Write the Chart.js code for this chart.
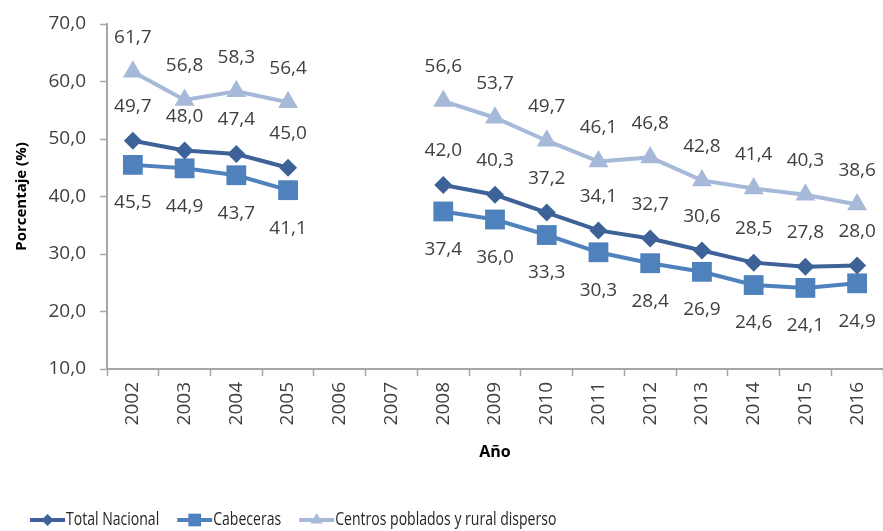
<!DOCTYPE html>
<html>
<head>
<meta charset="utf-8">
<script src="https://cdn.jsdelivr.net/npm/chart.js@4.4.1/dist/chart.umd.min.js"></script>
<style>
  html, body { margin: 0; padding: 0; background: #fff; overflow: hidden; }
  #wrap { width: 883px; height: 531px; position: relative; }
  #wrap canvas { display: block; }
</style>
</head>
<body>
<div id="wrap"><canvas id="povertyChart"></canvas></div>
<script>
const years = ["2002", "2003", "2004", "2005", "2006", "2007", "2008", "2009",
  "2010", "2011", "2012", "2013", "2014", "2015", "2016"];

const totalNacional = [49.7, 48.0, 47.4, 45.0, null, null, 42.0, 40.3, 37.2, 34.1, 32.7, 30.6, 28.5, 27.8, 28.0];
const cabeceras = [45.5, 44.9, 43.7, 41.1, null, null, 37.4, 36.0, 33.3, 30.3, 28.4, 26.9, 24.6, 24.1, 24.9];
const centrosPoblados = [61.7, 56.8, 58.3, 56.4, null, null, 56.6, 53.7, 49.7, 46.1, 46.8, 42.8, 41.4, 40.3, 38.6];

const yMin = 10;
const yMax = 70;
const yStep = 10;

const fmt = (v) => v.toFixed(1).replace(".", ",");

const textColor = "#404040";
const axisColor = "#a6a6a6";

// value labels above / below the points
const valueLabels = {
  id: "valueLabels",
  afterDatasetsDraw(chart) {
    const ctx = chart.ctx;
    ctx.save();
    ctx.font = "19px 'Open Sans'";
    ctx.fillStyle = textColor;
    ctx.textAlign = "center";
    ctx.textBaseline = "middle";
    chart.data.datasets.forEach((ds, i) => {
      chart.getDatasetMeta(i).data.forEach((pt, j) => {
        const v = ds.data[j];
        if (v == null) return;
        ctx.fillText(fmt(v), pt.x, pt.y + ds.labelOffset);
      });
    });
    ctx.restore();
  }
};

// legend: line with marker, then a condensed label
const lineLegend = {
  id: "lineLegend",
  afterDraw(chart) {
    const ctx = chart.ctx;
    const y = 520;
    const squeeze = 0.78;
    let x = 30;
    ctx.save();
    ctx.font = "18px 'Open Sans'";
    ctx.textBaseline = "middle";
    ctx.textAlign = "left";
    chart.data.datasets.forEach((ds) => {
      ctx.strokeStyle = ds.borderColor;
      ctx.fillStyle = ds.borderColor;
      ctx.lineWidth = 4;
      ctx.beginPath();
      ctx.moveTo(x, y);
      ctx.lineTo(x + 35, y);
      ctx.stroke();
      Chart.helpers.drawPoint(ctx, {
        pointStyle: ds.pointStyle,
        radius: ds.legendRadius,
        borderWidth: 0
      }, x + 17.5, y);
      ctx.fillStyle = "#262626";
      const tx = x + 36;
      ctx.save();
      ctx.translate(tx, y);
      ctx.scale(squeeze, 1);
      ctx.fillText(ds.label, 0, 0);
      ctx.restore();
      x = tx + ctx.measureText(ds.label).width * squeeze + 18;
    });
    ctx.restore();
  }
};

const ctx = document.getElementById("povertyChart").getContext("2d");

new Chart(ctx, {
  type: "line",
  data: {
    labels: years,
    datasets: [
      {
        label: "Total Nacional",
        data: totalNacional,
        borderColor: "#3d6297",
        backgroundColor: "#3d6297",
        pointStyle: "rectRot",
        pointRadius: 9,
        legendRadius: 6,
        labelOffset: -34
      },
      {
        label: "Cabeceras",
        data: cabeceras,
        borderColor: "#4f81bd",
        backgroundColor: "#4f81bd",
        pointStyle: "rect",
        pointRadius: 14,
        legendRadius: 9,
        labelOffset: 38
      },
      {
        label: "Centros poblados y rural disperso",
        data: centrosPoblados,
        borderColor: "#a7b9d9",
        backgroundColor: "#a7b9d9",
        pointStyle: "triangle",
        pointRadius: 11.5,
        legendRadius: 7,
        labelOffset: -34
      }
    ]
  },
  options: {
    responsive: true,
    maintainAspectRatio: false,
    animation: false,
    spanGaps: false,
    layout: {
      autoPadding: false,
      padding: { top: 24, left: 0, right: 0, bottom: 0 }
    },
    elements: {
      line: { borderWidth: 4, tension: 0 },
      point: { borderWidth: 0, hoverRadius: 10 }
    },
    plugins: {
      legend: { display: false },
      tooltip: { enabled: false }
    },
    scales: {
      x: {
        offset: true,
        grid: {
          offset: true,
          drawOnChartArea: false,
          drawTicks: true,
          tickLength: 7,
          tickColor: axisColor,
          tickWidth: 1.5
        },
        border: { color: axisColor, width: 2 },
        ticks: {
          color: textColor,
          font: { family: "'Open Sans'", size: 19 },
          maxRotation: 90,
          minRotation: 90,
          padding: 6,
          autoSkip: false
        },
        title: {
          display: true,
          text: "Año",
          color: "#000",
          font: { family: "'Open Sans'", size: 16, weight: "bold" },
          padding: { top: 4, bottom: 69 }
        },
        afterFit(scale) {
          scale.height = 162;
          scale.paddingLeft = 0;
          scale.paddingRight = 0;
        }
      },
      y: {
        min: yMin,
        max: yMax,
        grid: {
          drawOnChartArea: false,
          tickLength: 7,
          tickColor: axisColor,
          tickWidth: 1.5
        },
        border: { color: axisColor, width: 2 },
        ticks: {
          stepSize: yStep,
          color: textColor,
          font: { family: "'Open Sans'", size: 19 },
          padding: 14,
          callback: (v) => fmt(v)
        },
        title: {
          display: true,
          text: "Porcentaje (%)",
          color: "#000",
          font: { family: "'Open Sans'", size: 15, weight: "bold" },
          padding: { top: 13, bottom: 0 }
        },
        afterFit(scale) {
          scale.width = 107;
          scale.paddingTop = 0;
          scale.paddingBottom = 0;
        }
      }
    }
  },
  plugins: [valueLabels, lineLegend]
});
</script>
</body>
</html>
